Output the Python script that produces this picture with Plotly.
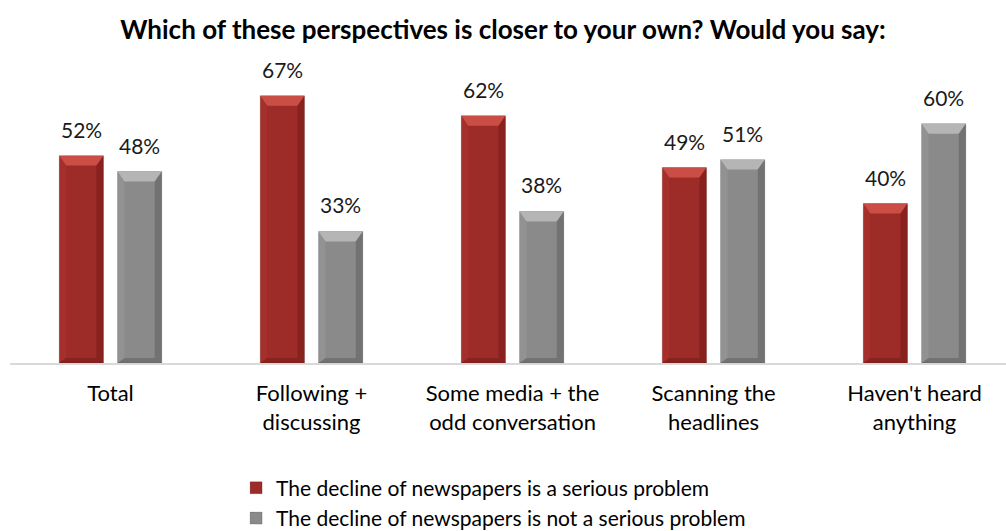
import plotly.graph_objects as go

# Survey results by news-engagement group
categories = [
    "Total",
    "Following +<br>discussing",
    "Some media + the<br>odd conversation",
    "Scanning the<br>headlines",
    "Haven't heard<br>anything",
]
serious = [52, 67, 62, 49, 40]
not_serious = [48, 33, 38, 51, 60]

series_names = [
    "The decline of newspapers is a serious problem",
    "The decline of newspapers is not a serious problem",
]

FONT = "Lato"
RED = "#9D2B27"
GREY = "#8A8A8A"

BAR_W = 0.22
OFFSETS = [-0.255, 0.035]

fig = go.Figure()
annotations = []
for name, vals, color, off, grp in [
    (series_names[0], serious, RED, OFFSETS[0], "a"),
    (series_names[1], not_serious, GREY, OFFSETS[1], "b"),
]:
    fig.add_trace(go.Bar(
        name=name,
        x=list(range(len(categories))),
        y=vals,
        width=BAR_W,
        offset=off,
        marker=dict(color=color, line=dict(color="rgba(0,0,0,0.2)", width=0.8)),
        legendgroup=grp,
    ))
    # value labels above each bar
    for i, v in enumerate(vals):
        annotations.append(dict(
            x=i + off + BAR_W / 2, y=v, xref="x", yref="y",
            text=f"{v}%", showarrow=False,
            yanchor="bottom", yshift=12,
            font=dict(family=FONT, size=21, color="#1a1a1a"),
        ))

# Bevel highlights drawn on top of each bar
shapes = []
bevel = {
    RED: ("rgba(214,88,78,0.8)", "rgba(95,18,15,0.35)", "rgba(190,60,52,0.25)"),
    GREY: ("rgba(188,188,188,0.85)", "rgba(70,70,70,0.35)", "rgba(170,170,170,0.25)"),
}
dx, dy = 0.035, 2.5
for vals, color, off in [(serious, RED, OFFSETS[0]), (not_serious, GREY, OFFSETS[1])]:
    top_c, dark_c, left_c = bevel[color]
    for i, v in enumerate(vals):
        x0 = i + off
        x1 = x0 + BAR_W
        shapes.append(dict(type="path", xref="x", yref="y", layer="above",
                           path=f"M{x0},{v} L{x1},{v} L{x1-dx},{v-dy} L{x0+dx},{v-dy} Z",
                           fillcolor=top_c, line=dict(width=0)))
        shapes.append(dict(type="path", xref="x", yref="y", layer="above",
                           path=f"M{x1},{v} L{x1},0 L{x1-dx},{dy*0.5} L{x1-dx},{v-dy} Z",
                           fillcolor=dark_c, line=dict(width=0)))
        shapes.append(dict(type="path", xref="x", yref="y", layer="above",
                           path=f"M{x0},{v} L{x0+dx},{v-dy} L{x0+dx},{dy*0.5} L{x0},0 Z",
                           fillcolor=left_c, line=dict(width=0)))
        shapes.append(dict(type="path", xref="x", yref="y", layer="above",
                           path=f"M{x0},0 L{x1},0 L{x1-dx},{dy*0.5} L{x0+dx},{dy*0.5} Z",
                           fillcolor=dark_c, line=dict(width=0)))

fig.update_layout(
    width=1006,
    height=531,
    margin=dict(l=10, r=0, t=44, b=168, autoexpand=False),
    paper_bgcolor="white",
    plot_bgcolor="white",
    barmode="overlay",
    shapes=shapes,
    annotations=annotations,
    title=dict(
        text="<b>Which of these perspectives is closer to your own? Would you say:</b>",
        font=dict(family=FONT, size=26, color="#000000"),
        x=0.500, xanchor="center", y=0.944, yanchor="middle",
    ),
    font=dict(family=FONT, color="#000000"),
    xaxis=dict(
        range=[-0.5, 4.455],
        tickmode="array",
        tickvals=list(range(len(categories))),
        ticktext=categories,
        tickfont=dict(family=FONT, size=22, color="#000000"),
        showgrid=False,
        zeroline=False,
        showline=True,
        linecolor="#D9D9D9",
        linewidth=1.5,
        ticks="",
        ticklabelstandoff=10,
        automargin=False,
    ),
    yaxis=dict(
        range=[0, 80],
        visible=False,
        showgrid=False,
        zeroline=False,
        automargin=False,
    ),
    legend=dict(
        orientation="v",
        x=0.227, xanchor="left",
        y=-0.328, yanchor="top",
        font=dict(family=FONT, size=21, color="#000000"),
        tracegroupgap=0,
        itemwidth=30,
        bgcolor="rgba(0,0,0,0)",
    ),
    showlegend=True,
)

fig.write_html("out.html")
